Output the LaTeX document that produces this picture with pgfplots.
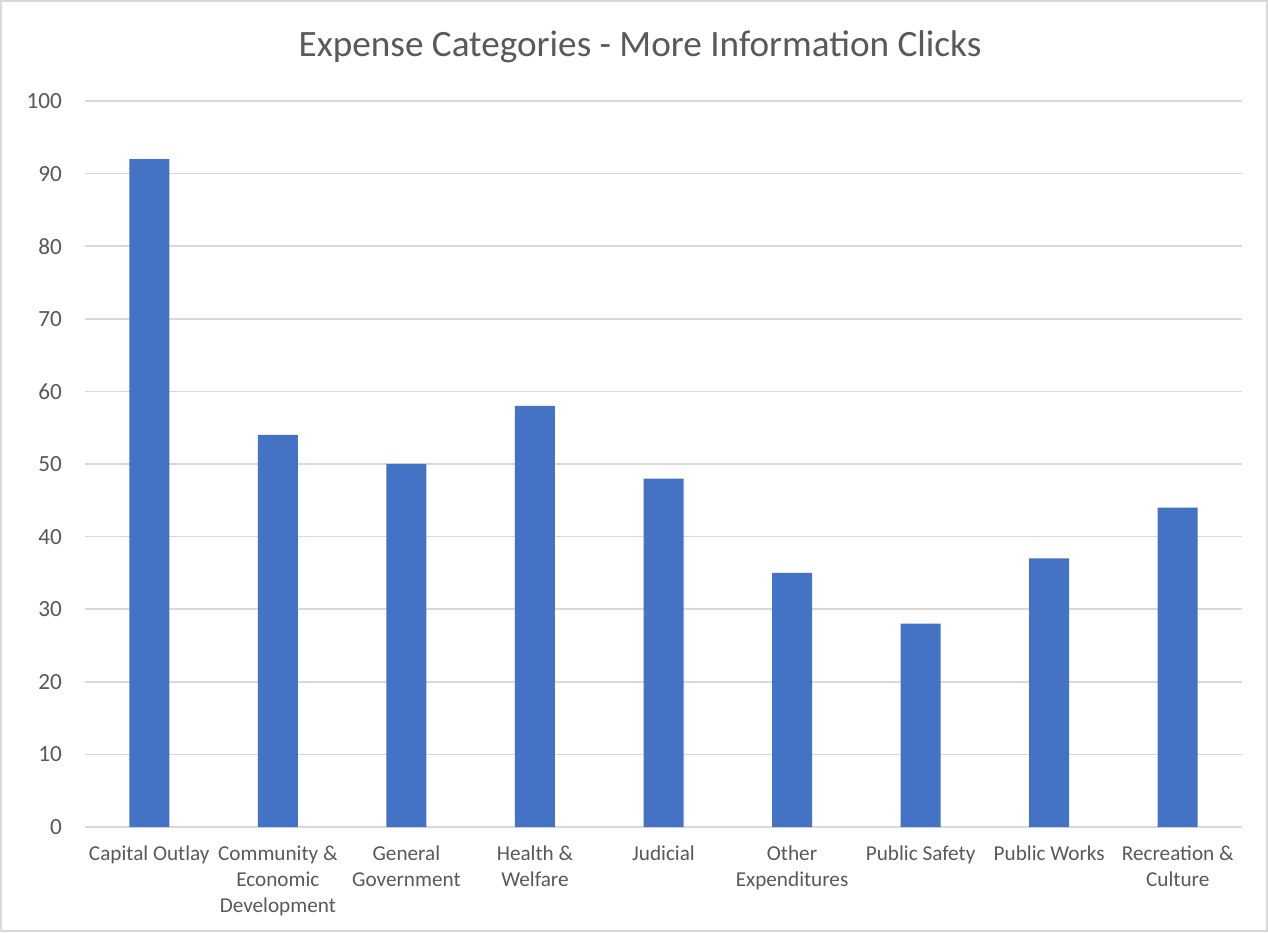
\documentclass[border=0pt]{standalone}
\usepackage{pgfplots}
\pgfplotsset{compat=1.18}
\usepackage{fontspec}
\setmainfont{Carlito}
\definecolor{barblue}{HTML}{4472C4}
\definecolor{gridgray}{HTML}{D9D9D9}
\definecolor{txtgray}{HTML}{595959}
\begin{document}
\begin{tikzpicture}[x=1pt,y=1pt]
\draw[gridgray, line width=0.8pt, fill=white] (0.4,0.4) rectangle (633.6,465.6);
\node[text=txtgray, font=\fontsize{18.6}{20}\selectfont] at (320,442.5) {Expense Categories - More Information Clicks};
\begin{axis}[
  at={(42.5pt,52.5pt)}, anchor=south west,
  scale only axis, width=578.5pt, height=363pt,
  xmin=-0.5, xmax=8.5, ymin=0, ymax=100,
  ytick={0,10,...,100},
  xtick={0,...,8},
  xticklabels={Capital Outlay, Community \&\\Economic\\Development, General\\Government, Health \&\\Welfare, Judicial, Other\\Expenditures, Public Safety, Public Works, Recreation \&\\Culture},
  axis line style={draw=none},
  major tick length=0pt,
  ymajorgrids, grid style={gridgray, line width=0.8pt},
  tick label style={text=txtgray, font=\fontsize{10.6}{13}\selectfont},
  yticklabel style={anchor=east, xshift=-8pt, font=\fontsize{11.6}{13}\selectfont},
  /pgf/number format/assume math mode=true,
  xticklabel style={anchor=north, align=center, yshift=-6pt},
  clip=false,
]
\addplot[ybar, bar width=20pt, fill=barblue, draw=none] coordinates {
(0,92) (1,54) (2,50) (3,58) (4,48) (5,35) (6,28) (7,37) (8,44)};
\end{axis}
\end{tikzpicture}
\end{document}
